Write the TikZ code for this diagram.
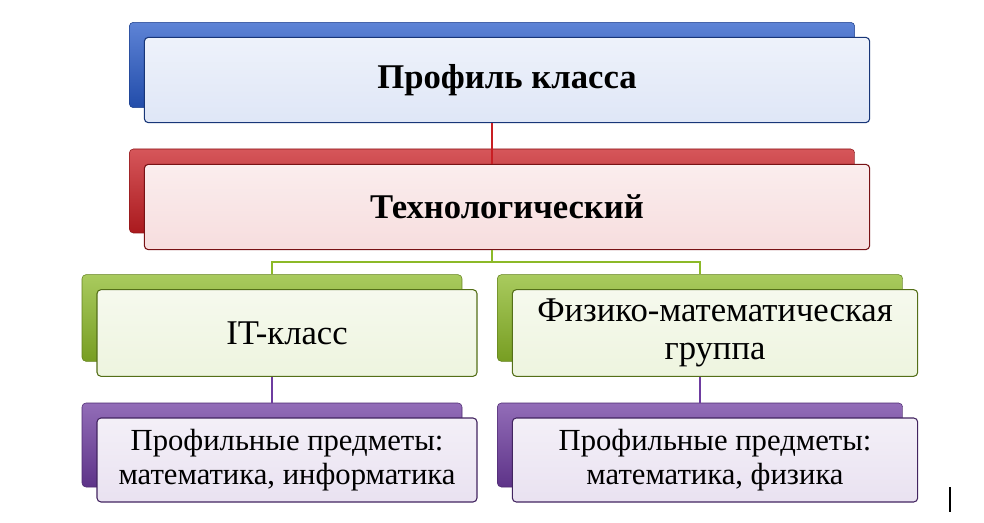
\documentclass[tikz,border=0pt]{standalone}
\usepackage{fontspec}
\setmainfont{Liberation Serif}
\usetikzlibrary{positioning}
\definecolor{bblue}{RGB}{40,90,200}
\definecolor{bred}{RGB}{200,30,35}
\definecolor{bgreen}{RGB}{140,185,40}
\definecolor{bpurple}{RGB}{110,60,160}
\begin{document}
\begin{tikzpicture}[x=0.75pt,y=-0.75pt,
  back/.style={rectangle, rounded corners=3pt, draw=#1!70!black, top color=#1!75, bottom color=#1!85!black, inner sep=0pt},
  front/.style={rectangle, rounded corners=3pt, draw=#1!60!black, line width=0.8pt, top color=#1!8, bottom color=#1!15, inner sep=2pt, align=center},
  link/.style={draw=#1, line width=1.2pt}]
\useasboundingbox (0,0) rectangle (984,523);
% back plates
\node (tb) at (492,65) [back=bblue, minimum width=544pt, minimum height=64pt] {};
\node (rb) at (492,191) [back=bred, minimum width=544pt, minimum height=63pt] {};
\node (glb) at (272,318) [back=bgreen, minimum width=285pt, minimum height=65pt] {};
\node (grb) at (700,318) [back=bgreen, minimum width=304pt, minimum height=65pt] {};
\node (plb) at (272,445) [back=bpurple, minimum width=285pt, minimum height=63pt] {};
\node (prb) at (700,445) [back=bpurple, minimum width=304pt, minimum height=63pt] {};
% front boxes
\node (top) at (507,80) [front=bblue, minimum width=544pt, minimum height=64pt, font=\fontsize{26}{28}\selectfont\bfseries] {Профиль класса};
\node (tech) at (507,207) [front=bred, minimum width=544pt, minimum height=64pt, font=\fontsize{26}{28}\selectfont\bfseries] {Технологический};
\node (it) at (287,333) [front=bgreen, minimum width=285pt, minimum height=65pt, font=\fontsize{26}{29}\selectfont] {IT-класс};
\node (fm) at (715,333) [front=bgreen, minimum width=304pt, minimum height=65pt, font=\fontsize{26}{29}\selectfont] {Физико-математическая\\группа};
\node (itp) at (287,460) [front=bpurple, minimum width=285pt, minimum height=63pt, font=\fontsize{23}{26}\selectfont] {Профильные предметы:\\математика, информатика};
\node (fmp) at (715,460) [front=bpurple, minimum width=304pt, minimum height=63pt, font=\fontsize{23}{26}\selectfont] {Профильные предметы:\\математика, физика};
% links
\draw[link=bred] (top.south -| 492,0) -- (tech.north -| 492,0);
\coordinate (j) at (492,262);
\draw[link=bgreen] (tech.south -| j) -- (j);
\draw[link=bgreen] (glb.north) -- (glb.north |- j) -- (grb.north |- j) -- (grb.north);
\draw[link=bpurple] (it.south -| glb.center) -- (plb.north);
\draw[link=bpurple] (fm.south -| grb.center) -- (prb.north);
\draw[line width=1pt] (950,487) -- (950,512);
\end{tikzpicture}
\end{document}
